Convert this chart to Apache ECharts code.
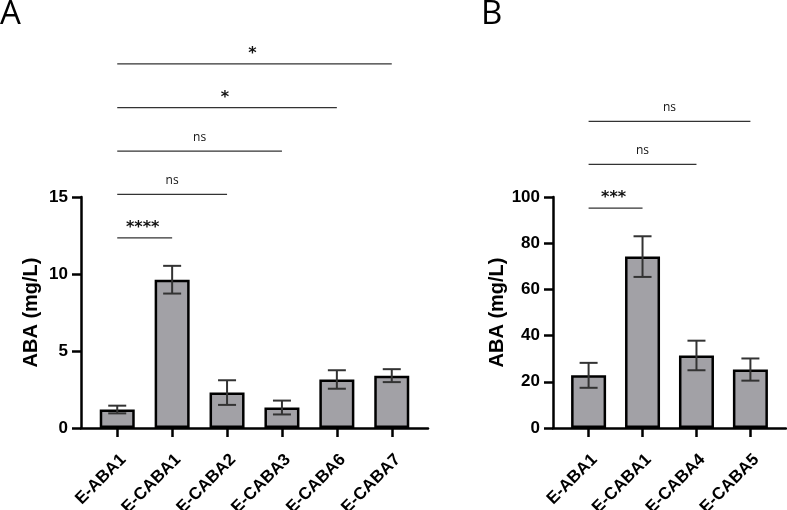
<!DOCTYPE html>
<html lang="en" style="height: 100%">
<head>
  <meta charset="utf-8">
</head>
<body style="height: 100%; margin: 0; background: #fff">
  <div id="container" style="width: 787px; height: 510px"></div>

  <script type="text/javascript" src="https://cdn.jsdelivr.net/npm/echarts@6/dist/echarts.min.js"></script>
  <script type="text/javascript">
    // panel A
    const catsA = ['E-ABA1', 'E-CABA1', 'E-CABA2', 'E-CABA3', 'E-CABA6', 'E-CABA7'];
    const meanA = [1.2, 9.63, 2.3, 1.33, 3.15, 3.4];
    const errA = [0.25, 0.9, 0.8, 0.45, 0.6, 0.42];
    const sigToA = [1, 2, 3, 4, 5];
    const sigYA = [12.34, 15.17, 17.98, 20.81, 23.64];
    const sigTextA = ['****', 'ns', 'ns', '*', '*'];

    // panel B
    const catsB = ['E-ABA1', 'E-CABA1', 'E-CABA4', 'E-CABA5'];
    const meanB = [22.8, 74.2, 31.4, 25.3];
    const errB = [5.4, 8.8, 6.4, 4.8];
    const sigToB = [1, 2, 3];
    const sigYB = [95.2, 114.1, 132.7];
    const sigTextB = ['***', 'ns', 'ns'];

    var dom = document.getElementById('container');
    var myChart = echarts.init(dom, null, { renderer: 'canvas' });

    const FONT = 'Liberation Sans';

    function xAxisFor(idx, cats) {
      const pos = cats.map((c, i) => i);
      return {
        type: 'value',
        gridIndex: idx,
        min: -0.66,
        max: cats.length - 1 + 0.66,
        splitLine: { show: false },
        axisLine: { show: true, onZero: false, lineStyle: { color: '#000', width: 2.5 } },
        axisTick: { show: true, customValues: pos, length: 9, lineStyle: { color: '#000', width: 2.5 } },
        axisLabel: {
          customValues: pos,
          formatter: v => cats[Math.round(v)],
          rotate: 45,
          margin: 23,
          verticalAlign: 'top',
          color: '#000',
          fontFamily: FONT,
          fontWeight: 'bold',
          fontSize: 17
        }
      };
    }

    function yAxisFor(idx, max, interval, gap) {
      return {
        type: 'value',
        gridIndex: idx,
        min: 0,
        max: max,
        interval: interval,
        name: 'ABA (mg/L)',
        nameLocation: 'middle',
        nameGap: gap,
        nameTextStyle: { color: '#000', fontFamily: FONT, fontWeight: 'bold', fontSize: 20 },
        splitLine: { show: false },
        axisLine: { show: true, onZero: false, lineStyle: { color: '#000', width: 2.5 } },
        axisTick: { show: true, length: 9, lineStyle: { color: '#000', width: 2.5 } },
        axisLabel: { color: '#000', fontFamily: FONT, fontWeight: 'bold', fontSize: 17, margin: 13 }
      };
    }

    function barSeries(idx, means) {
      return {
        type: 'bar',
        xAxisIndex: idx,
        yAxisIndex: idx,
        barWidth: 35,
        data: means.map((m, i) => [i, m]),
        itemStyle: { color: '#a2a1a6', borderColor: '#000', borderWidth: 2.5 },
        z: 2
      };
    }

    function errSeries(idx, means, errs) {
      return {
        type: 'custom',
        xAxisIndex: idx,
        yAxisIndex: idx,
        z: 3,
        data: means.map((m, i) => [i, m - errs[i], m + errs[i]]),
        renderItem: function (params, api) {
          const lo = api.coord([api.value(0), api.value(1)]);
          const hi = api.coord([api.value(0), api.value(2)]);
          const w = 9;
          const st = { stroke: '#333', lineWidth: 2 };
          return {
            type: 'group',
            children: [
              { type: 'line', shape: { x1: lo[0], y1: lo[1], x2: hi[0], y2: hi[1] }, style: st },
              { type: 'line', shape: { x1: hi[0] - w, y1: hi[1], x2: hi[0] + w, y2: hi[1] }, style: st },
              { type: 'line', shape: { x1: lo[0] - w, y1: lo[1], x2: lo[0] + w, y2: lo[1] }, style: st }
            ]
          };
        }
      };
    }

    function sigSeries(idx, tos, ys, texts) {
      return {
        type: 'custom',
        xAxisIndex: idx,
        yAxisIndex: idx,
        clip: false,
        z: 4,
        data: tos.map((t, i) => [0, t, ys[i]]),
        renderItem: function (params, api) {
          const a = api.coord([api.value(0), api.value(2)]);
          const b = api.coord([api.value(1), api.value(2)]);
          const txt = texts[params.dataIndex];
          const isNs = txt === 'ns';
          return {
            type: 'group',
            children: [
              { type: 'line', shape: { x1: a[0], y1: a[1], x2: b[0], y2: b[1] }, style: { stroke: '#333', lineWidth: 1.3 } },
              {
                type: 'text',
                x: (a[0] + b[0]) / 2 - (isNs ? 0 : 2),
                y: a[1] - (isNs ? 14 : 10),
                style: {
                  text: txt,
                  align: 'center',
                  verticalAlign: 'middle',
                  fill: '#111',
                  font: isNs ? '12px "Open Sans"' : 'bold 16px "DejaVu Sans"'
                }
              }
            ]
          };
        }
      };
    }

    var option = {
      animation: false,
      backgroundColor: '#fff',
      graphic: [
        { type: 'text', left: 0, top: -2, style: { text: 'A', font: '33px "Open Sans"', fill: '#000' } },
        { type: 'text', left: 481, top: -2, style: { text: 'B', font: '33px "Open Sans"', fill: '#000' } }
      ],
      grid: [
        { left: 81, top: 197, width: 347, height: 231, containLabel: false, outerBoundsMode: 'none' },
        { left: 553, top: 197, width: 233, height: 231, containLabel: false, outerBoundsMode: 'none' }
      ],
      xAxis: [xAxisFor(0, catsA), xAxisFor(1, catsB)],
      yAxis: [yAxisFor(0, 15, 5, 40), yAxisFor(1, 100, 20, 45)],
      series: [
        barSeries(0, meanA),
        errSeries(0, meanA, errA),
        sigSeries(0, sigToA, sigYA, sigTextA),
        barSeries(1, meanB),
        errSeries(1, meanB, errB),
        sigSeries(1, sigToB, sigYB, sigTextB)
      ]
    };

    myChart.setOption(option);
    window.addEventListener('resize', myChart.resize);
  </script>
</body>
</html>
